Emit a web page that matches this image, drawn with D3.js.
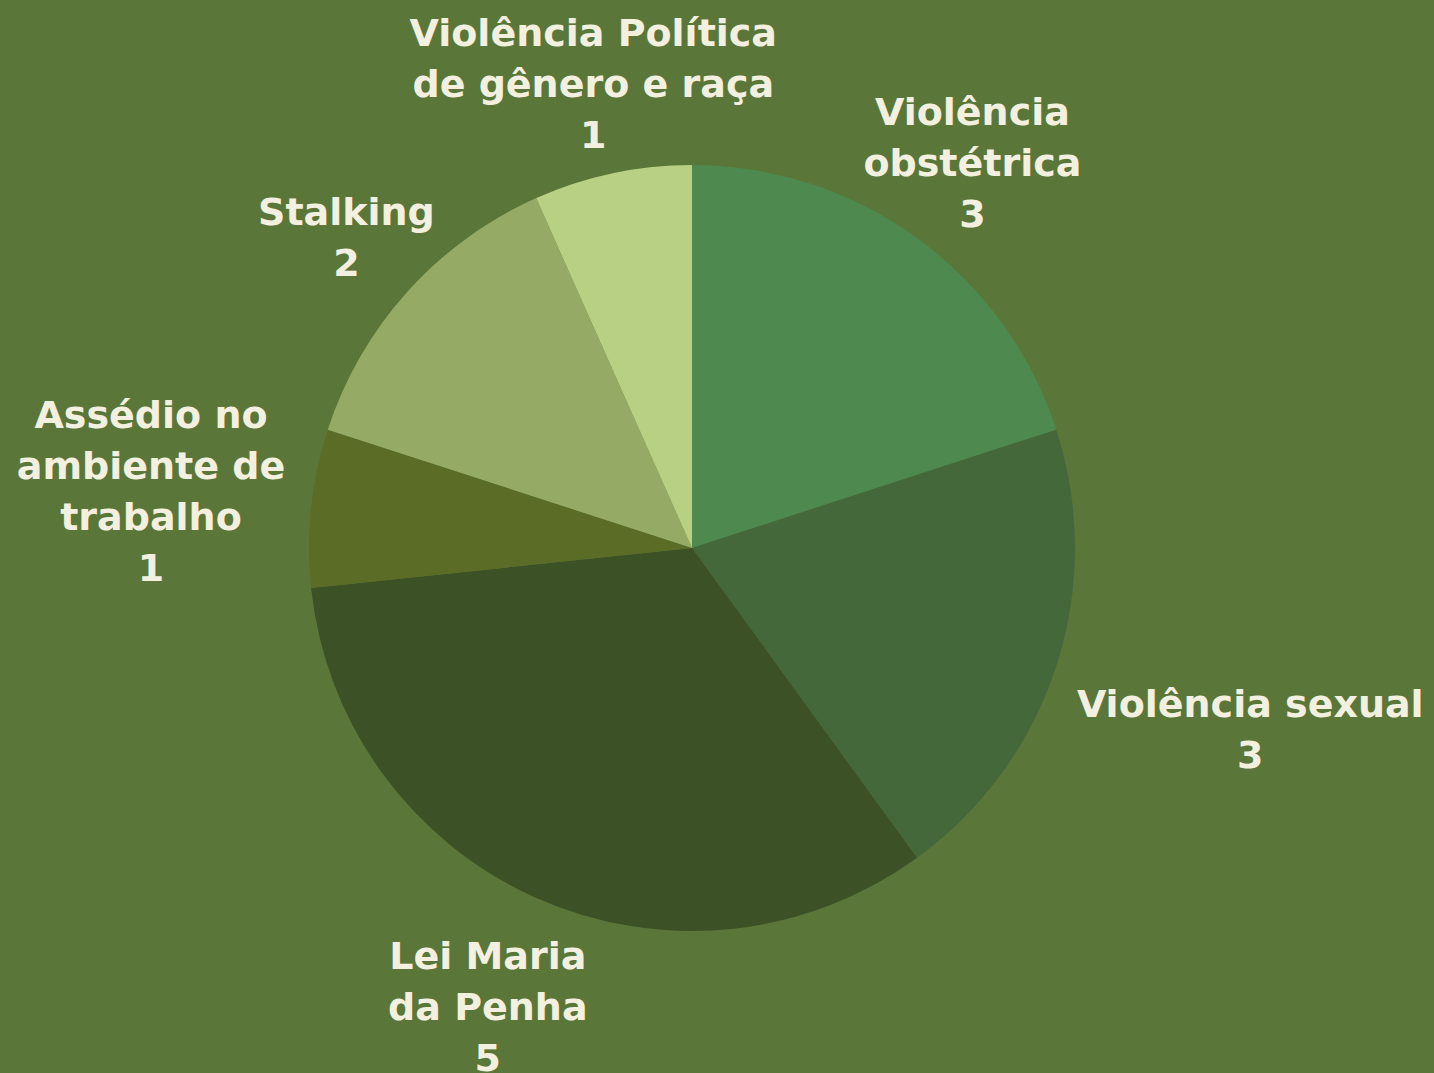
<!DOCTYPE html>
<meta charset="utf-8">
<title>Tipos de violência</title>
<style>
    body {
        margin: 0;
        background: #5a7739;
        overflow: hidden;
    }

    svg {
        display: block;
    }

    text.label {
        font-family: "DejaVu Sans", sans-serif;
        font-weight: bold;
        font-size: 38px;
        fill: #f4f0e0;
        text-anchor: middle;
    }
</style>

<body>
    <svg></svg>

    <script src="https://d3js.org/d3.v7.min.js"></script>
    <script>
        // slices in clockwise order starting at 12 o'clock
        const categories = [
            "Violência\nobstétrica",
            "Violência sexual",
            "Lei Maria\nda Penha",
            "Assédio no\nambiente de\ntrabalho",
            "Stalking",
            "Violência Política\nde gênero e raça"
        ];
        const values = [3, 3, 5, 1, 2, 1];
        const colors = ["#4e8a50", "#45683b", "#3d5127", "#5b6c27", "#95aa65", "#b8d084"];

        // distance from pie centre to each label block (layout only)
        const labelDist = [477, 587, 502, 544, 465, 475];

        const width = 1434, height = 1073;
        const cx = 692, cy = 548, radius = 383;
        const lineGap = 51;

        const svg = d3.select("svg")
            .attr("width", width)
            .attr("height", height);

        svg.append("rect")
            .attr("width", width)
            .attr("height", height)
            .attr("fill", "#5a7739");

        const data = categories.map((c, i) => ({ name: c, value: values[i], color: colors[i], dist: labelDist[i] }));

        const pie = d3.pie()
            .value(d => d.value)
            .sort(null);

        const arc = d3.arc()
            .innerRadius(0)
            .outerRadius(radius);

        const g = svg.append("g")
            .attr("transform", `translate(${cx},${cy})`);

        const arcs = pie(data);

        g.selectAll("path")
            .data(arcs)
            .join("path")
            .attr("d", arc)
            .attr("fill", d => d.data.color);

        const labels = g.selectAll("text.label")
            .data(arcs)
            .join("text")
            .attr("class", "label")
            .attr("transform", d => {
                const a = (d.startAngle + d.endAngle) / 2;
                const x = Math.sin(a) * d.data.dist;
                const y = -Math.cos(a) * d.data.dist;
                return `translate(${x},${y})`;
            });

        labels.each(function (d) {
            const lines = d.data.name.split("\n").concat(String(d.data.value));
            const n = lines.length;
            const top = -(n - 1) * lineGap / 2 + 13.5;
            d3.select(this).selectAll("tspan")
                .data(lines)
                .join("tspan")
                .attr("x", 0)
                .attr("y", (l, i) => top + i * lineGap)
                .text(l => l);
        });
    </script>
</body>

</html>
